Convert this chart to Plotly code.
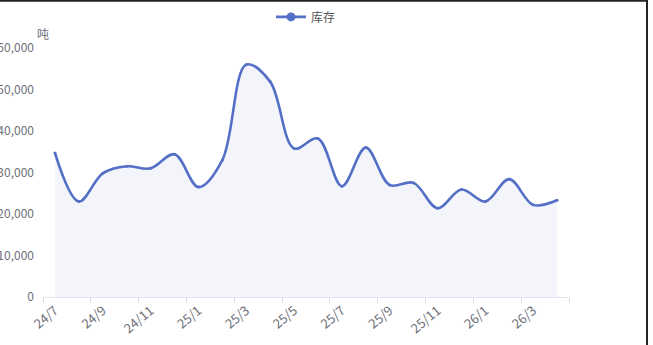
import plotly.graph_objects as go

# Monthly inventory, July 2024 to April 2026 (tonnes)
months = ["24/7", "24/8", "24/9", "24/10", "24/11", "24/12",
          "25/1", "25/2", "25/3", "25/4", "25/5", "25/6",
          "25/7", "25/8", "25/9", "25/10", "25/11", "25/12",
          "26/1", "26/2", "26/3", "26/4"]
inventory = [34700, 23000, 29800, 31500, 31000, 34400,
             26500, 33000, 56000, 51900, 35800, 38200,
             26700, 36000, 27000, 27500, 21400, 25900,
             23000, 28400, 22200, 23300]

series_name = "库存"
unit_label = "吨"
y_ticks = [0, 10000, 20000, 30000, 40000, 50000, 60000]

LINE = "#5470c6"
AXIS_TEXT = "#6e7079"
FONT = "Noto Sans CJK SC, Noto Sans, sans-serif"

fig = go.Figure()
# filled smooth line (legend entry drawn by the plain line trace below)
fig.add_trace(go.Scatter(
    x=months, y=inventory, name=series_name, showlegend=False,
    mode="lines+markers",
    line=dict(color=LINE, width=2.6, shape="spline", smoothing=1.0),
    marker=dict(color=LINE, size=3),
    fill="tozeroy", fillcolor="rgba(84,112,198,0.07)",
))
# legend key: thin line with a round marker, no fill swatch
fig.add_trace(go.Scatter(
    x=[None], y=[None], name=series_name, mode="lines+markers",
    line=dict(color=LINE, width=2.6),
    marker=dict(color=LINE, size=9),
))

fig.update_layout(
    width=653, height=345,
    margin=dict(l=43, r=84, t=48, b=48, autoexpand=False),
    paper_bgcolor="white", plot_bgcolor="white",
    font=dict(family=FONT, size=12, color=AXIS_TEXT),
    showlegend=True,
    legend=dict(orientation="h", x=0.5, xanchor="center",
                y=1.125, yanchor="middle",
                font=dict(size=12, color="#555"),
                bgcolor="rgba(0,0,0,0)"),
    xaxis=dict(
        type="category", categoryorder="array", categoryarray=months,
        range=[-0.5, len(months) - 0.5],
        tickmode="linear", tick0=0, dtick=2, tickson="boundaries",
        ticks="outside", ticklen=5, tickcolor="#d7dbe6",
        tickangle=-40, tickfont=dict(size=13, color=AXIS_TEXT),
        showline=True, linecolor="#e0e6f1", linewidth=1,
        showgrid=False, zeroline=False, fixedrange=True, automargin=False,
    ),
    yaxis=dict(
        range=[0, 60000], tickvals=y_ticks, tickformat=",",
        showgrid=False, zeroline=False, showline=False,
        ticks="", ticklabelstandoff=8, automargin=False,
        tickfont=dict(size=12, color=AXIS_TEXT), fixedrange=True,
    ),
    annotations=[dict(text=unit_label, xref="paper", yref="paper",
                      x=0.0, y=1.06, xanchor="center", yanchor="middle",
                      showarrow=False,
                      font=dict(size=12, color=AXIS_TEXT))],
    shapes=[
        # frame edges along the top and right of the canvas
        dict(type="line", xref="paper", yref="paper",
             x0=-0.09, x1=1.15, y0=1.19, y1=1.19,
             line=dict(color="#222", width=2)),
        dict(type="line", xref="paper", yref="paper",
             x0=1.1483, x1=1.1483, y0=-0.2, y1=1.2,
             line=dict(color="#222", width=2)),
    ],
)

fig.write_html("out.html")
